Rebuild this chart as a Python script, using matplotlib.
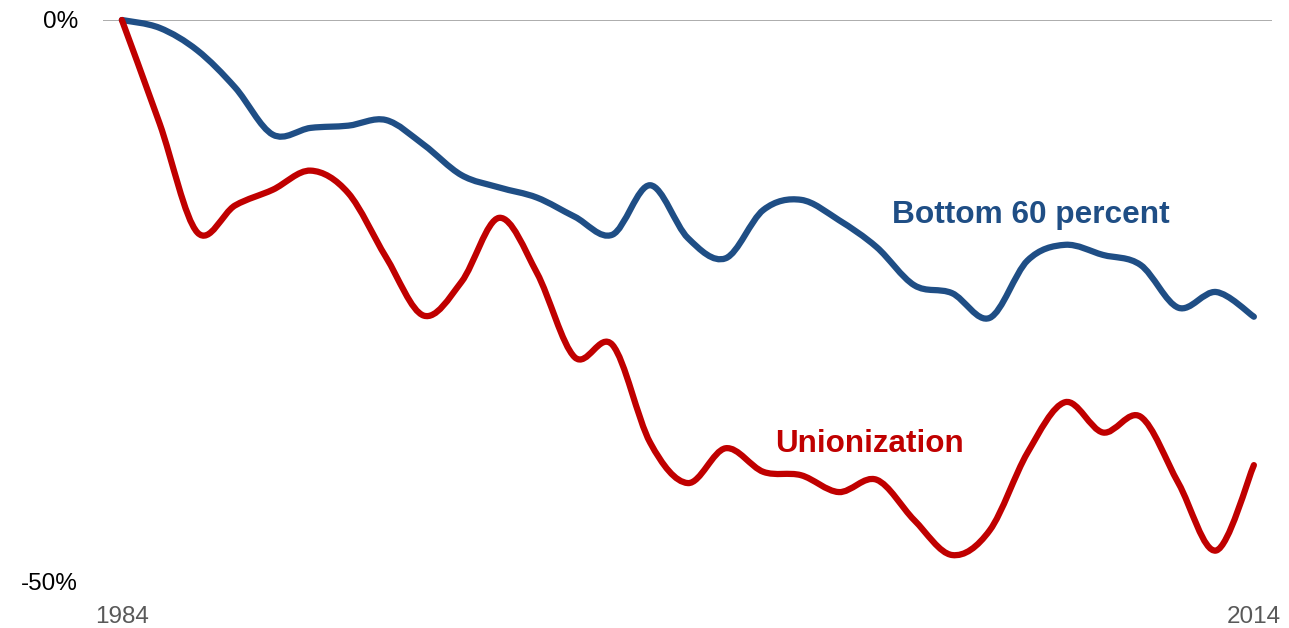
import matplotlib
matplotlib.use("Agg")
import matplotlib.pyplot as plt
from matplotlib.path import Path
from matplotlib.patches import PathPatch

years = list(range(1984, 2015))

bottom60 = [0.0, -0.7, -2.7, -6.0, -10.2, -9.6, -9.4, -8.9, -11.1, -13.8,
            -14.9, -15.8, -17.5, -19.1, -14.7, -19.4, -21.2, -16.9, -16.0, -17.8,
            -20.2, -23.6, -24.3, -26.5, -21.4, -20.0, -20.9, -21.8, -25.6, -24.2,
            -26.4]

union = [0.0, -9.2, -18.9, -16.5, -15.1, -13.4, -15.4, -21.1, -26.3, -23.3,
         -17.6, -22.5, -30.0, -28.9, -37.6, -41.2, -38.1, -40.2, -40.5, -42.0,
         -40.9, -44.5, -47.6, -45.4, -38.5, -34.0, -36.7, -35.3, -41.2, -47.2,
         -39.6]

ytick_vals = [-50, 0]
ytick_labels = ["-50%", "0%"]
xtick_vals = [1984, 2014]


def smooth_path(xs, ys):
    # Catmull-Rom through the data points, drawn as cubic beziers (like Excel smoothed lines)
    pts = list(zip(xs, ys))
    n = len(pts)
    verts = [pts[0]]
    codes = [Path.MOVETO]
    for i in range(n - 1):
        p0 = pts[i - 1] if i > 0 else pts[i]
        p1 = pts[i]
        p2 = pts[i + 1]
        p3 = pts[i + 2] if i + 2 < n else pts[i + 1]
        c1 = (p1[0] + (p2[0] - p0[0]) / 6, p1[1] + (p2[1] - p0[1]) / 6)
        c2 = (p2[0] - (p3[0] - p1[0]) / 6, p2[1] - (p3[1] - p1[1]) / 6)
        verts += [c1, c2, p2]
        codes += [Path.CURVE4] * 3
    return Path(verts, codes)


plt.rcParams['font.family'] = ['Liberation Sans', 'DejaVu Sans']

fig = plt.figure(figsize=(12.89, 6.28), dpi=100)
ax = fig.add_axes([103 / 1289, 46 / 628, 1169 / 1289, 562 / 628])

ax.axhline(0, color='#a6a6a6', lw=1.3, zorder=1)

blue = '#1f4e85'
red = '#c00000'
ax.add_patch(PathPatch(smooth_path(years, bottom60), fill=False, edgecolor=blue,
                       lw=4.5, capstyle='round', joinstyle='round', zorder=3, clip_on=False))
ax.add_patch(PathPatch(smooth_path(years, union), fill=False, edgecolor=red,
                       lw=4.5, capstyle='round', joinstyle='round', zorder=4, clip_on=False))

ax.text(2004.41, -18.06, "Bottom 60 percent", color=blue, fontsize=22.8,
        fontweight='bold', ha='left', va='baseline')
ax.text(2001.31, -38.43, "Unionization", color=red, fontsize=22.6,
        fontweight='bold', ha='left', va='baseline')

ax.set_xlim(1983.5, 2014.48)
ax.set_ylim(-50, 0)
ax.set_yticks(ytick_vals)
ax.set_yticklabels(ytick_labels, fontsize=17.5, color='black')
ax.set_xticks(xtick_vals)
ax.set_xticklabels([str(v) for v in xtick_vals], fontsize=17.5, color='#595959')
ax.tick_params(axis='y', length=0, pad=18)
ax.tick_params(axis='x', length=0, pad=17.5)
for s in ax.spines.values():
    s.set_visible(False)

fig.savefig("out.png", dpi=100)
